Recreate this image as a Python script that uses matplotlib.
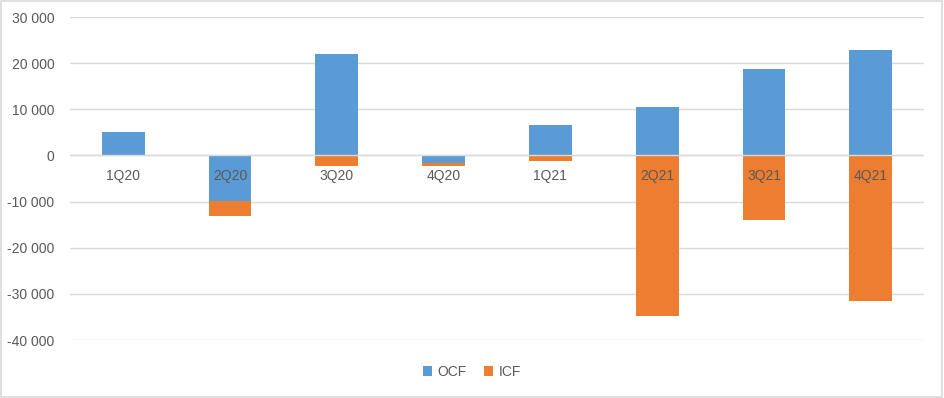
import matplotlib.pyplot as plt
import numpy as np
from matplotlib.patches import Rectangle

quarters = ['1Q20', '2Q20', '3Q20', '4Q20', '1Q21', '2Q21', '3Q21', '4Q21']
ocf = [5200, -9900, 22100, -1650, 6700, 10600, 18850, 22950]
icf = [0, -3200, -2300, -650, -1300, -34800, -14000, -31550]

BLUE = '#5b9bd5'
ORANGE = '#ed7d31'
GRID = '#d9d9d9'
TEXT = '#595959'


def fmt(v):
    return f'{int(v):,}'.replace(',', ' ')


def main():
    plt.rcParams['font.family'] = ['Liberation Sans', 'DejaVu Sans']
    fig = plt.figure(figsize=(9.44, 3.98), dpi=100)
    ax = fig.add_axes([0.074, 0.1457, 0.905, 0.8113])

    x = np.arange(len(quarters))
    ocf_a = np.array(ocf, dtype=float)
    icf_a = np.array(icf, dtype=float)
    # stacking like Excel: negatives stack onto negatives
    icf_bottom = np.where((ocf_a < 0) == (icf_a < 0), ocf_a, 0)

    ax.bar(x, ocf_a, 0.4, color=BLUE, label='OCF', zorder=2)
    ax.bar(x, icf_a, 0.4, bottom=icf_bottom, color=ORANGE, label='ICF', zorder=2)

    ax.set_xlim(-0.5, len(quarters) - 0.5)
    ax.set_ylim(-40000, 30000)
    ticks = np.arange(-40000, 30001, 10000)
    ax.set_yticks(ticks)
    ax.set_yticklabels([fmt(t) for t in ticks])
    ax.yaxis.grid(True, color=GRID, linewidth=1)
    ax.set_axisbelow(True)
    ax.axhline(0, color=GRID, linewidth=1, zorder=3)

    ax.set_xticks([])
    for i, q in zip(x, quarters):
        ax.annotate(q, (i, 0), xytext=(0, -14.5), textcoords='offset points',
                    ha='center', va='center', fontsize=10, color=TEXT, zorder=5)

    ax.tick_params(axis='y', length=0, labelsize=10, labelcolor=TEXT, pad=11)
    for s in ax.spines.values():
        s.set_visible(False)

    fig.legend(loc='center', bbox_to_anchor=(0.5, 0.065), ncol=2, frameon=False,
               fontsize=10, labelcolor=TEXT, handlelength=0.7, handleheight=0.7,
               handletextpad=0.4, columnspacing=1.2)

    fig.patches.append(Rectangle((0.001, 0.002), 0.997, 0.995, transform=fig.transFigure,
                                 fill=False, edgecolor=GRID, linewidth=1.2))

    fig.savefig('out.png', dpi=100)
    plt.close(fig)


if __name__ == '__main__':
    main()
